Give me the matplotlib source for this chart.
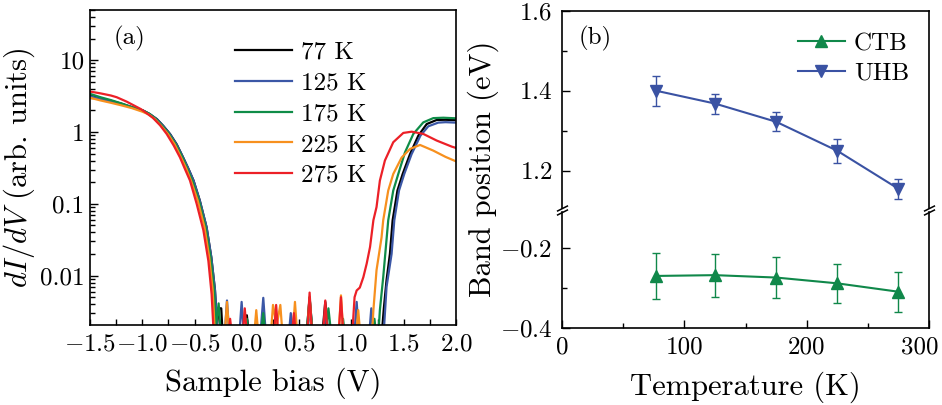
import matplotlib
matplotlib.use("Agg")
import matplotlib.pyplot as plt
from matplotlib.ticker import FixedLocator, MultipleLocator, LogLocator, NullFormatter, FixedFormatter
from matplotlib.transforms import ScaledTranslation

plt.rcParams['font.family'] = ['cmr10', 'DejaVu Serif']
plt.rcParams['mathtext.fontset'] = 'cm'
plt.rcParams['axes.formatter.use_mathtext'] = True
plt.rcParams['axes.unicode_minus'] = True

# ---------------- Panel (a) data: dI/dV spectra ----------------
temps_a = ["77 K", "125 K", "175 K", "225 K", "275 K"]
colors_a = ["#000000", "#3b57a6", "#0f8c48", "#f7901e", "#ec2027"]

v_77 = [-1.5, -1.4, -1.3, -1.2, -1.1, -0.99, -0.93, -0.86, -0.8, -0.735, -0.67, -0.61, -0.56, -0.51, -0.45,
        -0.385, -0.34, -0.305, -0.285, -0.27, -0.245, -0.225, -0.03, 0.0, 0.03, 0.13, 0.16, 0.19, 0.56, 0.6,
        0.64, 0.71, 0.75, 0.79, 1.28, 1.31, 1.336, 1.368, 1.394, 1.44, 1.49, 1.56, 1.64, 1.72, 1.815, 1.9, 2.0]
y_77 = [3.27, 2.95, 2.72, 2.48, 2.22, 1.98, 1.78, 1.51, 1.22, 0.94, 0.67, 0.444, 0.31, 0.211, 0.111,
        0.047, 0.018, 0.0063, 0.002, 0.0035, 0.0035, 0.001, 0.001, 0.0028, 0.001, 0.001, 0.0025, 0.001, 0.001, 0.0049,
        0.001, 0.001, 0.0043, 0.001, 0.001, 0.0035, 0.0087, 0.02, 0.059, 0.153, 0.26, 0.49, 0.89, 1.29, 1.47, 1.48, 1.46]

v_125 = [-1.5, -1.4, -1.3, -1.2, -1.1, -0.99, -0.93, -0.86, -0.8, -0.735, -0.67, -0.61, -0.56, -0.51, -0.45,
         -0.385, -0.34, -0.305, -0.285, -0.22, -0.19, -0.16, -0.08, -0.05, -0.02, 0.12, 0.157, 0.19, 0.39, 0.42,
         0.45, 0.57, 0.6, 0.63, 0.72, 0.75, 0.78, 1.02, 1.05, 1.08, 1.16, 1.19, 1.22, 1.3, 1.336, 1.384, 1.41,
         1.455, 1.505, 1.575, 1.66, 1.735, 1.83, 1.9, 2.0]
y_125 = [3.15, 2.88, 2.66, 2.44, 2.2, 1.97, 1.78, 1.5, 1.21, 0.93, 0.66, 0.44, 0.31, 0.21, 0.11,
         0.047, 0.018, 0.0063, 0.002, 0.001, 0.0045, 0.001, 0.001, 0.0043, 0.001, 0.001, 0.0049, 0.001, 0.001, 0.003,
         0.001, 0.001, 0.004, 0.001, 0.001, 0.0035, 0.001, 0.001, 0.0043, 0.001, 0.001, 0.0035, 0.001, 0.001, 0.007, 0.02, 0.059,
         0.153, 0.26, 0.49, 0.89, 1.2, 1.35, 1.37, 1.35]

v_175 = [-1.5, -1.4, -1.3, -1.2, -1.1, -0.99, -0.93, -0.87, -0.81, -0.745, -0.68, -0.617, -0.57, -0.522, -0.458,
         -0.394, -0.347, -0.313, -0.295, -0.27, -0.24, -0.03, 0.0, 0.03, 0.12, 0.157, 0.19, 0.56, 0.6, 0.64,
         0.74, 0.78, 0.82, 0.89, 0.92, 0.95, 1.19, 1.22, 1.25, 1.272, 1.304, 1.352, 1.4, 1.448, 1.512, 1.592,
         1.687, 1.783, 1.879, 2.0]
y_175 = [3.4, 3.05, 2.78, 2.5, 2.22, 1.98, 1.78, 1.51, 1.22, 0.94, 0.67, 0.444, 0.31, 0.211, 0.111,
         0.047, 0.018, 0.0063, 0.002, 0.0041, 0.001, 0.001, 0.0025, 0.001, 0.001, 0.003, 0.001, 0.001, 0.005, 0.001,
         0.001, 0.0035, 0.001, 0.001, 0.0025, 0.001, 0.001, 0.0025, 0.001, 0.0033, 0.0095, 0.059, 0.153, 0.26, 0.52, 0.94,
         1.36, 1.56, 1.58, 1.55]

v_225 = [-1.5, -1.4, -1.3, -1.2, -1.1, -1.0, -0.94, -0.88, -0.82, -0.755, -0.69, -0.63, -0.58, -0.535, -0.47,
         -0.405, -0.36, -0.327, -0.31, -0.29, -0.22, -0.19, -0.16, 0.06, 0.09, 0.12, 0.22, 0.25, 0.285, 0.32, 0.35,
         0.43, 0.46, 0.49, 0.57, 0.6, 0.63, 0.87, 0.9, 0.93, 1.035, 1.065, 1.095, 1.19, 1.21, 1.24, 1.288, 1.304,
         1.352, 1.4, 1.48, 1.56, 1.656, 1.783, 1.9, 2.0]
y_225 = [3.0, 2.75, 2.55, 2.35, 2.15, 1.92, 1.76, 1.51, 1.22, 0.94, 0.67, 0.444, 0.31, 0.211, 0.111,
         0.047, 0.018, 0.0063, 0.002, 0.001, 0.001, 0.0043, 0.001, 0.001, 0.0033, 0.001, 0.001, 0.0039, 0.002, 0.0039, 0.001,
         0.001, 0.0043, 0.001, 0.001, 0.005, 0.001, 0.001, 0.0053, 0.001, 0.001, 0.0033, 0.001, 0.001, 0.0033, 0.0119, 0.034, 0.059,
         0.153, 0.26, 0.44, 0.58, 0.66, 0.55, 0.45, 0.39]

v_275 = [-1.5, -1.4, -1.3, -1.245, -1.15, -1.01, -0.9, -0.83, -0.767, -0.7, -0.64, -0.59, -0.544, -0.48, -0.416,
         -0.368, -0.337, -0.321, -0.31, -0.19, -0.16, -0.13, -0.05, -0.02, 0.01, 0.25, 0.28, 0.31, 0.42, 0.45, 0.48,
         0.57, 0.6, 0.63, 0.72, 0.75, 0.78, 0.87, 0.9, 0.93, 1.0, 1.03, 1.05, 1.08, 1.114, 1.146, 1.178, 1.21,
         1.24, 1.272, 1.32, 1.4, 1.496, 1.576, 1.687, 1.815, 1.96, 2.0]
y_275 = [3.66, 3.45, 3.22, 3.05, 2.65, 2.07, 1.58, 1.24, 0.94, 0.65, 0.444, 0.3, 0.211, 0.1, 0.043,
         0.016, 0.0055, 0.002, 0.001, 0.001, 0.0025, 0.001, 0.001, 0.0035, 0.001, 0.001, 0.0039, 0.001, 0.001, 0.003, 0.001,
         0.001, 0.0058, 0.001, 0.001, 0.0045, 0.001, 0.001, 0.005, 0.001, 0.001, 0.005, 0.0062, 0.0068, 0.0095, 0.0147, 0.025, 0.059,
         0.09, 0.21, 0.40, 0.72, 0.97, 1.01, 0.94, 0.76, 0.625, 0.6]

# ---------------- Panel (b) data: band positions ----------------
temperature = [77, 125, 175, 225, 275]
uhb = [1.40, 1.368, 1.3225, 1.25, 1.155]
uhb_err = [0.037, 0.025, 0.024, 0.03, 0.025]
ctb = [-0.269, -0.267, -0.273, -0.2875, -0.3085]
ctb_err = [0.058, 0.054, 0.052, 0.049, 0.05]
temp_ticks = [0, 100, 200, 300]
temp_ticklabels = ["0", "100", "200", "300"]

W, H = 942, 405
fig = plt.figure(figsize=(W / 100, H / 100), dpi=100)

TICK_FS = 18
LAB_FS = 22

# ---- panel (a) ----
axA = fig.add_axes([90 / W, 1 - 325 / H, 366 / W, 315 / H])
curves = [(v_77, y_77), (v_125, y_125), (v_175, y_175), (v_225, y_225), (v_275, y_275)]
for (vv, yy), lab, c in zip(curves, temps_a, colors_a):
    axA.plot(vv, yy, color=c, lw=1.6, label=lab)
axA.set_yscale('log')
axA.set_xlim(-1.5, 2.0)
axA.set_ylim(0.00205, 50)
axA.xaxis.set_major_locator(MultipleLocator(0.5))
axA.xaxis.set_minor_locator(MultipleLocator(0.25))
axA.yaxis.set_major_locator(FixedLocator([0.01, 0.1, 1, 10]))
axA.yaxis.set_major_formatter(FixedFormatter(["0.01", "0.1", "1", "10"]))
axA.yaxis.set_minor_locator(LogLocator(base=10, subs=[2, 3, 4, 5, 6, 7, 8, 9], numticks=20))
axA.yaxis.set_minor_formatter(NullFormatter())
axA.tick_params(which='both', direction='in', labelsize=TICK_FS, width=1)
axA.tick_params(axis='x', which='both', length=4, pad=6)
axA.tick_params(axis='y', which='major', length=6, pad=4)
axA.tick_params(axis='y', which='minor', length=3.5)
for s in axA.spines.values():
    s.set_linewidth(1.2)
axA.set_xlabel("Sample bias (V)", fontsize=LAB_FS, labelpad=9)
axA.set_ylabel(r"$dI/dV$ (arb. units)", fontsize=LAB_FS, labelpad=2)
axA.text(0.065, 0.91, "(a)", transform=axA.transAxes, fontsize=TICK_FS, ha='left', va='center')
axA.legend(loc='upper left', bbox_to_anchor=(0.37, 0.932), frameon=False, fontsize=TICK_FS,
           handlelength=2.25, handletextpad=0.38, labelspacing=0.33, borderaxespad=0)

# ---- panel (b) ----
bl, bw = 562 / W, 367 / W
axU = fig.add_axes([bl, 1 - 208 / H, bw, (208 - 10.7) / H])
axL = fig.add_axes([bl, 1 - 328.3 / H, bw, (328.3 - 212) / H])

green_b = "#10884a"
blue_b = "#3a52a3"
for ax in (axU, axL):
    ax.errorbar(temperature, ctb, yerr=ctb_err, color=green_b, marker='^', ms=8.5, lw=1.5,
                elinewidth=1.0, capsize=2.8, capthick=1.0, label="CTB")
    ax.errorbar(temperature, uhb, yerr=uhb_err, color=blue_b, marker='v', ms=8.5, lw=1.5,
                elinewidth=1.0, capsize=2.8, capthick=1.0, label="UHB")
    ax.set_xlim(0, 300)
    for s in ax.spines.values():
        s.set_linewidth(1.2)
    ax.tick_params(which='both', direction='in', labelsize=TICK_FS, width=1)
    ax.tick_params(which='major', length=6)
    ax.tick_params(which='minor', length=3.5)
    ax.tick_params(axis='y', pad=7)

axU.set_ylim(1.107, 1.6)
axL.set_ylim(-0.4, -0.109)
axU.spines['bottom'].set_visible(False)
axL.spines['top'].set_visible(False)
axU.tick_params(axis='x', which='both', bottom=False, labelbottom=False)
axU.yaxis.set_major_locator(MultipleLocator(0.2))
axU.yaxis.set_minor_locator(MultipleLocator(0.1))
axL.yaxis.set_major_locator(MultipleLocator(0.2))
axL.yaxis.set_minor_locator(MultipleLocator(0.1))
axL.set_xticks(temp_ticks)
axL.set_xticklabels(temp_ticklabels)
axL.xaxis.set_minor_locator(MultipleLocator(50))
axL.tick_params(axis='x', pad=6)
last = axL.get_xticklabels()[-1]
last.set_horizontalalignment('right')
last.set_transform(last.get_transform() + ScaledTranslation(9 / 100, 0, fig.dpi_scale_trans))

brk = dict(marker=[(-1, -0.5), (1, 0.5)], markersize=8, linestyle='none', color='k', mec='k', mew=1.1, clip_on=False)
axU.plot([0, 1], [0, 0], transform=axU.transAxes, **brk)
axL.plot([0, 1], [1, 1], transform=axL.transAxes, **brk)

axL.set_xlabel("Temperature (K)", fontsize=LAB_FS, labelpad=9)
fig.text(483 / W, 1 - 169 / H, "Band position (eV)", fontsize=LAB_FS, rotation=90, ha='center', va='center')
axU.text(0.045, 0.86, "(b)", transform=axU.transAxes, fontsize=TICK_FS, ha='left', va='center')
hb, lb = axU.get_legend_handles_labels()
hb = [h[0] for h in hb]
axU.legend(hb, lb, loc='upper left', bbox_to_anchor=(0.615, 0.94), frameon=False, fontsize=TICK_FS,
           handlelength=1.9, handletextpad=0.35, labelspacing=0.28, borderaxespad=0)

fig.savefig("out.png", dpi=100)
